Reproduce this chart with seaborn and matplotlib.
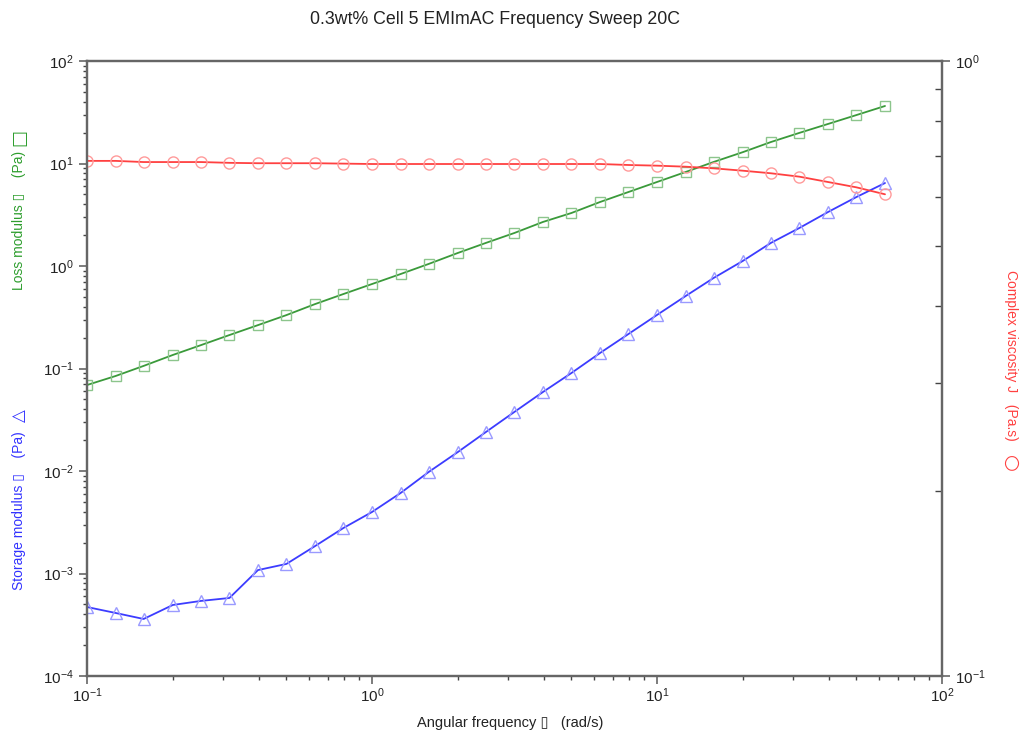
import numpy as np
import pandas as pd
import matplotlib
matplotlib.use("Agg")
import matplotlib.pyplot as plt
from matplotlib.ticker import NullFormatter, FixedLocator, LogFormatterSciNotation
import seaborn as sns

sns.set_theme(style="white")
plt.rcParams['font.family'] = ['Liberation Sans', 'DejaVu Sans']

# Angular frequency (rad/s), 10 points per decade
omega = [0.1, 0.126, 0.158, 0.2, 0.251, 0.316, 0.398, 0.501, 0.631, 0.794,
         1.0, 1.26, 1.58, 2.0, 2.51, 3.16, 3.98, 5.01, 6.31, 7.94,
         10.0, 12.6, 15.8, 20.0, 25.1, 31.6, 39.8, 50.1, 63.1]

loss_modulus = [0.069, 0.0845, 0.106, 0.1355, 0.169, 0.212, 0.265, 0.332, 0.425, 0.533,
                0.667, 0.835, 1.047, 1.34, 1.68, 2.10, 2.69, 3.29, 4.21, 5.27,
                6.60, 8.26, 10.35, 12.9, 16.2, 19.9, 24.3, 29.7, 36.4]

storage_modulus = [4.71e-4, 4.12e-4, 3.60e-4, 4.93e-4, 5.40e-4, 5.77e-4, 1.08e-3, 1.24e-3, 1.85e-3, 2.78e-3,
                   3.98e-3, 6.10e-3, 9.77e-3, 0.0153, 0.0240, 0.0377, 0.0590, 0.0904, 0.1416, 0.217,
                   0.333, 0.509, 0.764, 1.12, 1.68, 2.35, 3.36, 4.71, 6.45]

complex_viscosity = [0.688, 0.688, 0.685, 0.685, 0.685, 0.683, 0.682, 0.682, 0.682, 0.681,
                     0.680, 0.680, 0.680, 0.680, 0.680, 0.680, 0.680, 0.680, 0.680, 0.6775,
                     0.6758, 0.6732, 0.6691, 0.6632, 0.6568, 0.6485, 0.6357, 0.6231, 0.6071]

x_major = [0.1, 1, 10, 100]
y_major = [1e-4, 1e-3, 1e-2, 1e-1, 1, 10, 100]
y2_major = [0.1, 1.0]

df = pd.DataFrame({"omega": omega, "Gpp": loss_modulus, "Gp": storage_modulus, "eta": complex_viscosity})

W, H = 1021, 734
fig = plt.figure(figsize=(W / 100, H / 100), dpi=100)
ax = fig.add_axes([87 / W, 1 - 676 / H, (942 - 87) / W, (676 - 61) / H])
ax2 = ax.twinx()

green_line, green_mk = "#3a9a3a", "#8cc58c"
blue_line, blue_mk = "#3c3cff", "#9a9aff"
red_line, red_mk = "#ff4040", "#ff9a9a"

sns.lineplot(data=df, x="omega", y="Gpp", ax=ax, color=green_line, lw=1.3,
             marker="s", markersize=7, markerfacecolor="none",
             markeredgecolor=green_mk, markeredgewidth=1.0, legend=False)
sns.lineplot(data=df, x="omega", y="Gp", ax=ax, color=blue_line, lw=1.3,
             marker="^", markersize=8, markerfacecolor="none",
             markeredgecolor=blue_mk, markeredgewidth=1.0, legend=False)
sns.lineplot(data=df, x="omega", y="eta", ax=ax2, color=red_line, lw=1.3,
             marker="o", markersize=8, markerfacecolor="none",
             markeredgecolor=red_mk, markeredgewidth=1.0, legend=False)

for a in (ax, ax2):
    a.set_xscale("log")
    a.set_yscale("log")
ax.set_xlim(0.1, 100)
ax.set_ylim(1e-4, 1e2)
ax2.set_ylim(0.1, 1.0)

spine_c = "#666666"
for a in (ax, ax2):
    for s in a.spines.values():
        s.set_visible(True)
        s.set_color(spine_c)
        s.set_linewidth(1.6)


def minors(majors):
    out = []
    for m in majors[:-1]:
        out.extend([m * k for k in range(2, 10)])
    return out


ax.xaxis.set_major_locator(FixedLocator(x_major))
ax.xaxis.set_major_formatter(LogFormatterSciNotation())
ax.xaxis.set_minor_locator(FixedLocator(minors(x_major)))
ax.xaxis.set_minor_formatter(NullFormatter())
ax.yaxis.set_major_locator(FixedLocator(y_major))
ax.yaxis.set_major_formatter(LogFormatterSciNotation())
ax.yaxis.set_minor_locator(FixedLocator(minors(y_major)))
ax.yaxis.set_minor_formatter(NullFormatter())
ax2.yaxis.set_major_locator(FixedLocator(y2_major))
ax2.yaxis.set_major_formatter(LogFormatterSciNotation())
ax2.yaxis.set_minor_locator(FixedLocator(minors(y2_major)))
ax2.yaxis.set_minor_formatter(NullFormatter())

ax.tick_params(axis="both", which="major", direction="out", length=6, width=1.2,
               color=spine_c, labelsize=11, labelcolor="#222222", bottom=True, left=True, top=False)
ax.tick_params(axis="x", which="major", pad=1.5)
ax.tick_params(axis="both", which="minor", direction="out", length=3, width=1.0,
               color="#444444", bottom=True, left=True, top=False)
ax2.tick_params(axis="y", which="major", direction="out", length=6, width=1.2,
                color=spine_c, labelsize=11, labelcolor="#222222", right=True)
ax2.tick_params(axis="y", which="minor", direction="in", length=5, width=1.0,
                color="#444444", right=True)
ax.grid(False)
ax2.grid(False)

ax.set_xlabel("")
ax.set_ylabel("")
ax2.set_ylabel("")

sym_font = ['DejaVu Sans']
fig.text(495 / W, 1 - 20 / H, "0.3wt% Cell 5 EMImAC Frequency Sweep 20C", ha="center", va="center",
         fontsize=12.8, color="#222222")
fig.text(510 / W, 1 - 723 / H, "Angular frequency \u25af   (rad/s)", ha="center", va="center",
         fontsize=10.5, color="#222222")

# Axis titles (rotated), with larger symbol glyphs
green_c, blue_c, red_c = "#2e9e2e", "#3333ff", "#ff4040"
fig.text(19 / W, 1 - 290 / H, "Loss modulus \u25af    (Pa)", ha="center", va="bottom",
         rotation=90, fontsize=10, color=green_c)
fig.text(19 / W, 1 - 138 / H, "\u25a1", ha="center", va="center",
         rotation=90, fontsize=13, color=green_c, family=sym_font)
fig.text(19 / W, 1 - 590 / H, "Storage modulus \u25af    (Pa)", ha="center", va="bottom",
         rotation=90, fontsize=10, color=blue_c)
fig.text(19 / W, 1 - 416 / H, "\u25b3", ha="center", va="center",
         rotation=90, fontsize=12, color=blue_c, family=sym_font)
fig.text(1011 / W, 1 - 270 / H, "Complex viscosity J   (Pa.s)", ha="center", va="top",
         rotation=-90, fontsize=10, color=red_c)
fig.text(1011 / W, 1 - 463 / H, "\u25cb", ha="center", va="center",
         rotation=-90, fontsize=14, color=red_c, family=sym_font)

fig.savefig("out.png", dpi=100, facecolor="white")
